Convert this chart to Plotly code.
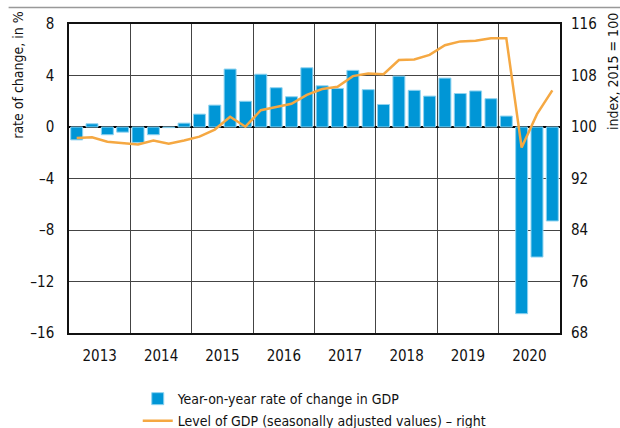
import plotly.graph_objects as go

years = ["2013", "2014", "2015", "2016", "2017", "2018", "2019", "2020"]
quarters = list(range(32))  # 2013Q1 .. 2020Q4

yoy_change = [-1.0, 0.25, -0.6, -0.4, -1.2, -0.6, -0.05, 0.3,
              1.0, 1.7, 4.5, 2.0, 4.1, 3.05, 2.35, 4.6,
              3.2, 3.0, 4.4, 2.9, 1.75, 3.95, 2.85, 2.4,
              3.8, 2.6, 2.8, 2.2, 0.85, -14.5, -10.1, -7.3]

gdp_level = [98.3, 98.4, 97.7, 97.5, 97.3, 97.9, 97.4, 97.9,
             98.5, 99.6, 101.6, 100.05, 102.6, 103.1, 103.6, 105.0,
             105.9, 106.25, 107.9, 108.3, 108.2, 110.4, 110.5, 111.2,
             112.7, 113.3, 113.4, 113.8, 113.8, 96.8, 102.0, 105.7]

left_ticks = [8, 4, 0, -4, -8, -12, -16]
left_labels = ["8", "4", "0", "\u20134", "\u20138", "\u201312", "\u201316"]
right_ticks = [116, 108, 100, 92, 84, 76, 68]

FONT = "DejaVu Sans Condensed, Liberation Sans Narrow, sans-serif"

year_centers = [4 * i + 1.5 for i in range(len(years))]
year_bounds = [4 * i - 0.5 for i in range(1, len(years))]

fig = go.Figure()
fig.add_trace(go.Bar(
    x=quarters, y=yoy_change, name="Year-on-year rate of change in GDP",
    marker=dict(color="#0096d6", line=dict(color="#8fd3f0", width=1)),
    width=0.78, yaxis="y", legendgroup="a",
))
fig.add_trace(go.Scatter(
    x=quarters, y=gdp_level, mode="lines",
    name="Level of GDP (seasonally adjusted values) \u2013 right",
    line=dict(color="#f5a842", width=2.5), yaxis="y2", legendgroup="b",
))

fig.update_layout(
    width=620, height=428,
    margin=dict(l=68.5, r=60, t=23.5, b=94.5, autoexpand=False),
    paper_bgcolor="white", plot_bgcolor="white",
    font=dict(family=FONT, size=14, color="#111"),
    showlegend=True,
    legend=dict(x=0.14, y=-0.162, xanchor="left", yanchor="top",
                orientation="v", font=dict(size=14, family=FONT),
                tracegroupgap=1, itemwidth=30, bgcolor="rgba(0,0,0,0)"),
    xaxis=dict(
        range=[-0.5, 31.5], tickvals=year_centers, ticktext=years,
        showgrid=False, zeroline=False, ticks="", ticklabelstandoff=8,
        showline=True, linecolor="#111", linewidth=1.5, mirror=True,
        minor=dict(tickvals=year_bounds, showgrid=True, gridcolor="#444", gridwidth=1, ticks=""),
        tickfont=dict(size=15), automargin=False,
    ),
    yaxis=dict(
        range=[-16, 8], tickvals=left_ticks, ticktext=left_labels,
        showgrid=True, gridcolor="#444", gridwidth=1,
        zeroline=True, zerolinecolor="#000", zerolinewidth=1.5,
        showline=True, linecolor="#111", linewidth=1.5, mirror=True,
        ticks="", ticklabelstandoff=10, tickfont=dict(size=15), automargin=False,
    ),
    yaxis2=dict(
        range=[68, 116], tickvals=right_ticks, overlaying="y", side="right",
        showgrid=False, zeroline=False, ticks="", ticklabelstandoff=10,
        tickfont=dict(size=15), automargin=False,
    ),
    shapes=[dict(type="line", xref="paper", yref="paper",
                 x0=-0.123, x1=1.125, y0=1.053, y1=1.053,
                 line=dict(color="#999", width=1.5))],
    annotations=[
        dict(text="rate of change, in %", xref="paper", yref="paper",
             x=-0.103, y=0.837, textangle=-90, showarrow=False,
             xanchor="center", yanchor="middle", font=dict(size=14, family=FONT)),
        dict(text="index, 2015 = 100", xref="paper", yref="paper",
             x=1.108, y=0.845, textangle=-90, showarrow=False,
             xanchor="center", yanchor="middle", font=dict(size=14, family=FONT)),
    ],
)

fig.write_html("out.html", config={"displayModeBar": False},
               post_script="document.body.style.margin='0';")
